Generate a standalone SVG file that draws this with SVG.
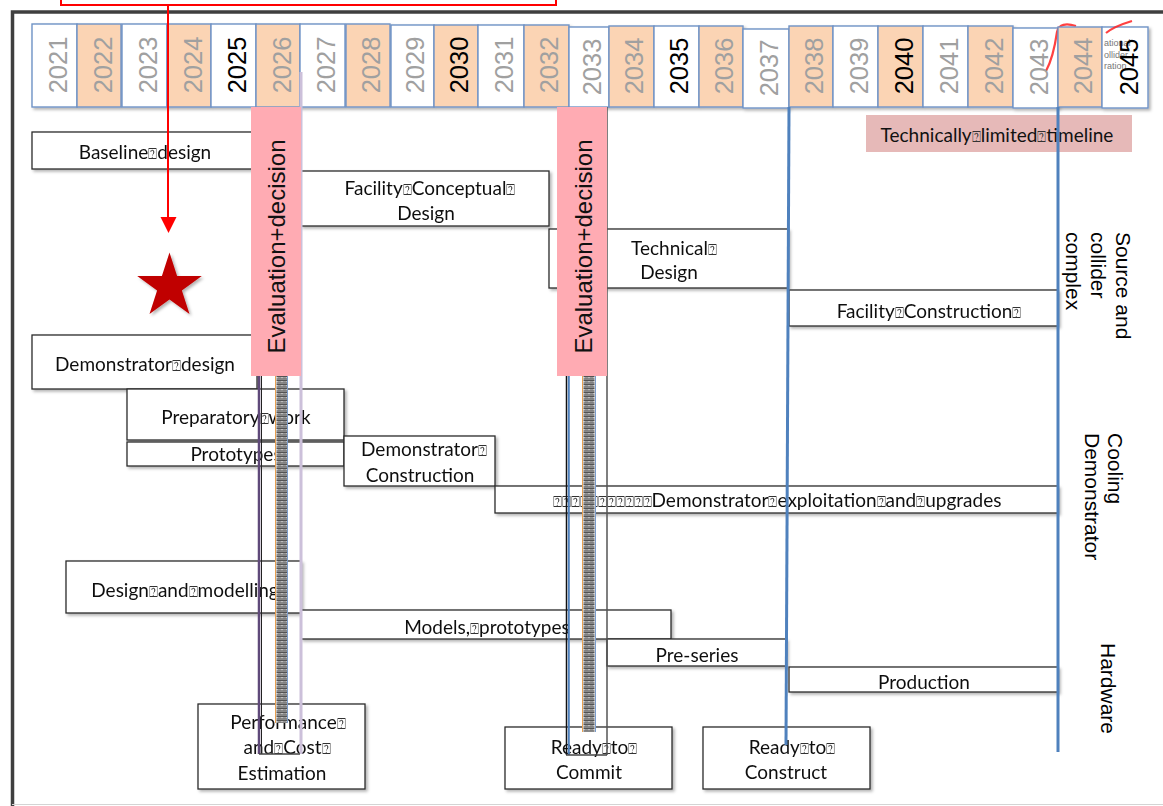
<svg xmlns="http://www.w3.org/2000/svg" width="1163" height="806" viewBox="0 0 1163 806">
<style>
.yr{fill:#fff;stroke:#6F93C6;stroke-width:1.4}
.yr.e{fill:#FBD4B4}
.yt{font-family:"Liberation Sans",Arial,sans-serif;font-size:25.5px;fill:#A0A0A0;text-anchor:middle}
.yt.k{fill:#000}
.box{fill:#fff;stroke:#2b2b2b;stroke-width:1.3}
.t{font-family:Lato,"Open Sans",sans-serif;font-size:19px;fill:#111;text-anchor:middle}
.q{font-size:15px;fill:#333}
.pink{fill:#FFABB3}
.ev{font-family:"Liberation Sans",Arial,sans-serif;font-size:24px;fill:#111;text-anchor:middle}
.side{font-family:"Liberation Sans",Arial,sans-serif;font-size:21px;fill:#000}
.blue{stroke:#4F81BD;stroke-width:3;fill:none}
</style>
<defs>
<filter id="sh" x="-10%" y="-10%" width="130%" height="140%">
<feDropShadow dx="2" dy="2" stdDeviation="1.5" flood-color="#000" flood-opacity="0.3"/>
</filter>
<pattern id="tofu" width="14" height="4" patternUnits="userSpaceOnUse">
<rect width="14" height="4" fill="#f2f2f2"/>
<path d="M1.5,0.8 H12.5 M1.5,3 H12.5" stroke="#1e1e1e" stroke-width="1.1"/>
<path d="M3,1.9 h3 M8,1.9 h3" stroke="#666" stroke-width="0.7"/>
</pattern>
</defs>
<rect width="1163" height="806" fill="#fff"/>

<!-- frame -->
<g id="frame">
<rect x="61" y="-6" width="495" height="11" fill="none" stroke="#FF0000" stroke-width="2"/>
<path d="M12.5,806 V12 H1163" fill="none" stroke="#3F3F3F" stroke-width="3.5"/>
<line x1="12" y1="804.5" x2="1163" y2="804.5" stroke="#D4D4D4" stroke-width="1.2"/>
</g>

<!-- year header -->
<g id="years" filter="url(#sh)">
<rect class="yr" x="32" y="24" width="45" height="83"/>
<rect class="yr e" x="77" y="24" width="44" height="83"/>
<rect class="yr" x="122" y="24" width="45" height="83"/>
<rect class="yr e" x="167" y="24" width="44" height="83"/>
<rect class="yr" x="211" y="24" width="45" height="83"/>
<rect class="yr e" x="256" y="24" width="44" height="83"/>
<rect class="yr" x="300" y="24" width="45" height="83"/>
<rect class="yr e" x="346" y="24" width="44" height="83"/>
<rect class="yr" x="391" y="25" width="43" height="82"/>
<rect class="yr e" x="434" y="25" width="44" height="82"/>
<rect class="yr" x="478" y="25" width="46" height="82"/>
<rect class="yr e" x="524" y="25" width="45" height="82"/>
<rect class="yr" x="569" y="27" width="40" height="80"/>
<rect class="yr e" x="609" y="26" width="45" height="81"/>
<rect class="yr" x="654" y="26" width="45" height="81"/>
<rect class="yr e" x="699" y="26" width="44" height="81"/>
<rect class="yr" x="743" y="29" width="46" height="79"/>
<rect class="yr e" x="789" y="26" width="44" height="81"/>
<rect class="yr" x="833" y="26" width="45" height="81"/>
<rect class="yr e" x="878" y="26" width="45" height="81"/>
<rect class="yr" x="923" y="26" width="45" height="81"/>
<rect class="yr e" x="968" y="26" width="45" height="81"/>
<rect class="yr" x="1013" y="28" width="45" height="80"/>
</g>
<path d="M1076,26 C1066,23 1059,24 1057,32 C1055,46 1052,60 1046,71" fill="none" stroke="#FF2020" stroke-width="2.2" stroke-opacity="0.85"/>
<g id="years2" filter="url(#sh)">
<rect class="yr e" x="1058" y="27" width="44" height="80"/>
<rect class="yr" x="1102" y="27" width="46" height="81"/>
</g>
<path d="M1106,33 C1112,28 1122,24 1132,21" fill="none" stroke="#FF2020" stroke-width="2.2" stroke-opacity="0.85"/>
<g id="yeartext">
<text class="yt" transform="translate(67,65) rotate(-90)">2021</text>
<text class="yt" transform="translate(112,65) rotate(-90)">2022</text>
<text class="yt" transform="translate(157,65) rotate(-90)">2023</text>
<text class="yt" transform="translate(202,65) rotate(-90)">2024</text>
<text class="yt k" transform="translate(246,65) rotate(-90)">2025</text>
<text class="yt" transform="translate(291,65) rotate(-90)">2026</text>
<text class="yt" transform="translate(335,65) rotate(-90)">2027</text>
<text class="yt" transform="translate(380,65) rotate(-90)">2028</text>
<text class="yt" transform="translate(424,65) rotate(-90)">2029</text>
<text class="yt k" transform="translate(468,65) rotate(-90)">2030</text>
<text class="yt" transform="translate(513,65) rotate(-90)">2031</text>
<text class="yt" transform="translate(558,65) rotate(-90)">2032</text>
<text class="yt" transform="translate(601,67) rotate(-90)">2033</text>
<text class="yt" transform="translate(643,66) rotate(-90)">2034</text>
<text class="yt k" transform="translate(688,66) rotate(-90)">2035</text>
<text class="yt" transform="translate(733,66) rotate(-90)">2036</text>
<text class="yt" transform="translate(778,68) rotate(-90)">2037</text>
<text class="yt" transform="translate(823,66) rotate(-90)">2038</text>
<text class="yt" transform="translate(868,66) rotate(-90)">2039</text>
<text class="yt k" transform="translate(913,66) rotate(-90)">2040</text>
<text class="yt" transform="translate(958,66) rotate(-90)">2041</text>
<text class="yt" transform="translate(1003,66) rotate(-90)">2042</text>
<text class="yt" transform="translate(1048,67) rotate(-90)">2043</text>
<text class="yt" transform="translate(1092,66) rotate(-90)">2044</text>
<g font-family="'Liberation Sans',Arial,sans-serif" font-size="9" fill="#777">
<text x="1104" y="46">ational</text>
<text x="1104" y="58">ollider</text>
<text x="1104" y="69">ration</text>
</g>
<text class="yt k" transform="translate(1138,67) rotate(-90)">2045</text>
</g>

<!-- timeline label -->
<g id="tech-limited">
<rect x="866" y="115" width="266" height="37" fill="#E6B9B8"/>
<text class="t" x="997" y="142">Technically<tspan class="q">⍰</tspan>limited<tspan class="q">⍰</tspan>timeline</text>
</g>

<!-- task boxes -->
<g id="baseline-design" filter="url(#sh)">
<rect class="box" x="32" y="132" width="225" height="37"/>
<text class="t" x="145" y="159">Baseline<tspan class="q">⍰</tspan>design</text>
</g>
<g id="facility-conceptual" filter="url(#sh)">
<rect class="box" x="301" y="171" width="248" height="55"/>
<text class="t" x="430" y="195">Facility<tspan class="q">⍰</tspan>Conceptual<tspan class="q">⍰</tspan></text>
<text class="t" x="426" y="220">Design</text>
</g>
<g id="technical-design" filter="url(#sh)">
<rect class="box" x="549" y="229" width="239" height="59"/>
<text class="t" x="674" y="255">Technical<tspan class="q">⍰</tspan></text>
<text class="t" x="669" y="279">Design</text>
</g>
<g id="facility-construction" filter="url(#sh)">
<rect class="box" x="789" y="290" width="269" height="36"/>
<text class="t" x="929" y="318">Facility<tspan class="q">⍰</tspan>Construction<tspan class="q">⍰</tspan></text>
</g>
<g id="demonstrator-design" filter="url(#sh)">
<rect class="box" x="32" y="335" width="225" height="54"/>
<text class="t" x="145" y="371">Demonstrator<tspan class="q">⍰</tspan>design</text>
</g>
<g id="preparatory-work" filter="url(#sh)">
<rect class="box" x="127" y="389" width="217" height="51"/>
<text class="t" x="236" y="424">Preparatory<tspan class="q">⍰</tspan>work</text>
</g>
<g id="prototypes" filter="url(#sh)">
<rect class="box" x="127" y="442" width="217" height="24"/>
<text class="t" x="236" y="461">Prototypes</text>
</g>
<g id="demonstrator-construction" filter="url(#sh)">
<rect class="box" x="344" y="436" width="151" height="50"/>
<text class="t" x="424" y="456">Demonstrator<tspan class="q">⍰</tspan></text>
<text class="t" x="420" y="482">Construction</text>
</g>
<g id="demonstrator-exploitation" filter="url(#sh)">
<rect class="box" x="495" y="486" width="563" height="27"/>
<text class="t" x="777" y="507"><tspan class="q">⍰⍰⍰⍰⍰⍰⍰⍰⍰⍰⍰</tspan>Demonstrator<tspan class="q">⍰</tspan>exploitation<tspan class="q">⍰</tspan>and<tspan class="q">⍰</tspan>upgrades</text>
</g>
<g id="design-modelling" filter="url(#sh)">
<rect class="box" x="66" y="561" width="235" height="52"/>
<text class="t" x="185" y="597">Design<tspan class="q">⍰</tspan>and<tspan class="q">⍰</tspan>modelling</text>
</g>
<g id="models-prototypes" filter="url(#sh)">
<rect class="box" x="301" y="610" width="370" height="29"/>
<text class="t" x="487" y="634">Models,<tspan class="q">⍰</tspan>prototypes</text>
</g>
<g id="pre-series" filter="url(#sh)">
<rect class="box" x="607" y="639" width="179" height="27"/>
<text class="t" x="697" y="662">Pre-series</text>
</g>
<g id="production" filter="url(#sh)">
<rect class="box" x="789" y="667" width="269" height="25"/>
<text class="t" x="924" y="689">Production</text>
</g>
<g id="performance-cost" filter="url(#sh)">
<rect class="box" x="198" y="704" width="167" height="85"/>
<text class="t" x="288" y="729">Performance<tspan class="q">⍰</tspan></text>
<text class="t" x="287" y="754">and<tspan class="q">⍰</tspan>Cost<tspan class="q">⍰</tspan></text>
<text class="t" x="282" y="780">Estimation</text>
</g>
<g id="ready-commit" filter="url(#sh)">
<rect class="box" x="505" y="727" width="167" height="62"/>
<text class="t" x="594" y="754">Ready<tspan class="q">⍰</tspan>to<tspan class="q">⍰</tspan></text>
<text class="t" x="589" y="779">Commit</text>
</g>
<g id="ready-construct" filter="url(#sh)">
<rect class="box" x="703" y="727" width="167" height="62"/>
<text class="t" x="792" y="754">Ready<tspan class="q">⍰</tspan>to<tspan class="q">⍰</tspan></text>
<text class="t" x="786" y="779">Construct</text>
</g>

<!-- connectors / milestone lines -->
<g id="connectors">
<line x1="168" y1="5" x2="168" y2="219" stroke="#FF0000" stroke-width="2"/>
<polygon points="160.5,217 176.5,217 168.5,233" fill="#FF0000"/>
<line class="blue" x1="789" y1="107" x2="786" y2="745"/>
<line class="blue" x1="1058" y1="107" x2="1058" y2="752"/>
</g>

<!-- star -->
<g id="star" filter="url(#sh)">
<polygon points="169.5,252.5 177.1,276 201.8,276 181.9,290.5 189.5,314 169.5,299.5 149.5,314 157.1,290.5 137.2,276 161.9,276" fill="#C00000"/>
</g>

<!-- evaluation bar 1 -->
<g id="eval-1">
<line x1="301" y1="72" x2="301" y2="754" stroke="#CCC0DA" stroke-width="3"/>
<line x1="259" y1="376" x2="259" y2="754" stroke="#5F497A" stroke-width="2.5"/>
<line x1="261.5" y1="376" x2="261.5" y2="754" stroke="#222" stroke-width="1"/>
<line x1="259" y1="754" x2="300" y2="754" stroke="#444" stroke-width="1.5"/>
<g transform="translate(275,376)">
<rect width="13" height="347" fill="url(#tofu)"/>
<line x1="0.5" y1="0" x2="0.5" y2="347" stroke="#E8A050" stroke-width="1"/>
<line x1="12.5" y1="0" x2="12.5" y2="347" stroke="#7A9CCB" stroke-width="1"/>
</g>
<rect class="pink" x="251" y="107" width="50" height="269"/>
<text class="ev" transform="translate(285,246.5) rotate(-90)">Evaluation+decision</text>
</g>

<!-- evaluation bar 2 -->
<g id="eval-2">
<line x1="607" y1="107" x2="607" y2="755" stroke="#555" stroke-width="1.5"/>
<line x1="566.5" y1="376" x2="566.5" y2="755" stroke="#111" stroke-width="1.5"/>
<line x1="568.8" y1="376" x2="568.8" y2="755" stroke="#4F81BD" stroke-width="2"/>
<line x1="566" y1="755" x2="607" y2="755" stroke="#444" stroke-width="1.5"/>
<g transform="translate(582,376)">
<rect width="14" height="356" fill="url(#tofu)"/>
<line x1="0.5" y1="0" x2="0.5" y2="356" stroke="#E8A050" stroke-width="1"/>
<line x1="13.5" y1="0" x2="13.5" y2="356" stroke="#7A9CCB" stroke-width="1"/>
</g>
<rect class="pink" x="557" y="107" width="50" height="269"/>
<text class="ev" transform="translate(592,246.5) rotate(-90)">Evaluation+decision</text>
</g>

<!-- side labels -->
<g id="label-source">
<text class="side" transform="translate(1116,232) rotate(90)">Source and</text>
<text class="side" transform="translate(1091,232) rotate(90)">collider</text>
<text class="side" transform="translate(1066,232) rotate(90)">complex</text>
</g>
<g id="label-cooling">
<text class="side" transform="translate(1108,433) rotate(90)">Cooling</text>
<text class="side" transform="translate(1085,433) rotate(90)">Demonstrator</text>
</g>
<g id="label-hardware">
<text class="side" transform="translate(1101,643) rotate(90)">Hardware</text>
</g>
</svg>
